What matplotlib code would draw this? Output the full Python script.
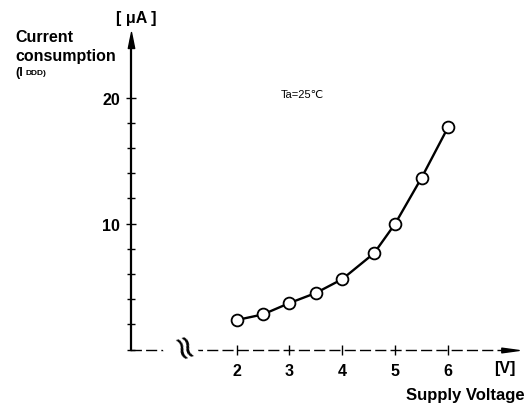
import matplotlib
matplotlib.use("Agg")
import matplotlib.pyplot as plt
import numpy as np

plt.rcParams['font.family'] = ['Liberation Sans', 'DejaVu Sans']

# Data
voltage = [2.0, 2.5, 3.0, 3.5, 4.0, 4.6, 5.0, 5.5, 6.0]
current = [2.35, 2.8, 3.7, 4.5, 5.6, 7.65, 10.0, 13.65, 17.65]
x_ticks = [2, 3, 4, 5, 6]
x_ticklabels = ["2", "3", "4", "5", "6"]
y_major = [10, 20]
y_major_labels = ["10", "20"]
y_minor = [0, 2, 4, 6, 8, 12, 14, 16, 18]

W, H = 529, 410
fig = plt.figure(figsize=(W / 100, H / 100), dpi=100)

def fx(px):
    return px / W

def fy(py):
    return 1 - py / H

ax = fig.add_axes([fx(130.7), fy(354.5), 378.8 / W, 314 / H])
ax.set_xlim(0, 7.16)
ax.set_ylim(-0.3, 24.6)
ax.patch.set_alpha(0)

for s in ["top", "right"]:
    ax.spines[s].set_visible(False)
ax.spines["left"].set_position(("data", 0))
ax.spines["bottom"].set_position(("data", 0))
ax.spines["left"].set_linewidth(1.6)
ax.spines["left"].set_bounds(0, 24.6)
ax.spines["bottom"].set_linewidth(1.0)
ax.spines["bottom"].set_linestyle((0, (7, 4)))

ax.set_xticks(x_ticks)
ax.set_xticklabels(x_ticklabels, fontsize=11.5, fontweight="bold")
ax.set_yticks(y_major)
ax.set_yticklabels(y_major_labels, fontsize=11.5, fontweight="bold")
ax.set_yticks(y_minor, minor=True)
ax.tick_params(axis="both", which="both", direction="inout", width=1.0, color="black")
ax.tick_params(axis="y", which="major", length=7, pad=4)
ax.tick_params(axis="y", which="minor", length=6)
ax.tick_params(axis="x", which="major", length=7, pad=6)

# arrow heads
from matplotlib.path import Path
right_head = Path([(-1, 0.27), (1, 0), (-1, -0.27), (-1, 0.27)],
                  [Path.MOVETO, Path.LINETO, Path.LINETO, Path.CLOSEPOLY])
up_head = Path([(-0.4, -1), (0, 1), (0.4, -1), (-0.4, -1)],
               [Path.MOVETO, Path.LINETO, Path.LINETO, Path.CLOSEPOLY])
ax.plot([1], [0], marker=right_head, markersize=12.5, color="black",
        transform=ax.get_yaxis_transform(), clip_on=False)
ax.plot([0], [1], marker=up_head, markersize=11.5, color="black",
        transform=ax.get_xaxis_transform(), clip_on=False)

# axis break mark
ax.text(0.94, 0, "\u2248", rotation=-70, ha="center", va="center",
        fontsize=24, color="black", family="DejaVu Sans",
        bbox=dict(facecolor="white", edgecolor="none", pad=0.0))

# data
ax.plot(voltage, current, color="black", linewidth=1.7, marker="o",
        markersize=8.5, markerfacecolor="white", markeredgecolor="black",
        markeredgewidth=1.3, clip_on=False, zorder=5)

# labels
fig.text(fx(15), fy(38), "Current", fontsize=11.5, fontweight="bold", ha="left", va="center")
fig.text(fx(15), fy(56), "consumption", fontsize=11.5, fontweight="bold", ha="left", va="center")
fig.text(fx(15), fy(73), "(I", fontsize=9, fontweight="bold", ha="left", va="center")
fig.text(fx(25), fy(74), "DDD)", fontsize=6, fontweight="bold", ha="left", va="center")
fig.text(fx(136), fy(18), "[ \u03bcA ]", fontsize=11.5, fontweight="bold", ha="center", va="center")
fig.text(fx(505), fy(369), "[V]", fontsize=11.5, fontweight="bold", ha="center", va="center")
fig.text(fx(525), fy(396), "Supply Voltage", fontsize=12, fontweight="bold", ha="right", va="center")
fig.text(fx(302), fy(95), "Ta=25\u2103", fontsize=8, ha="center", va="center",
         family=["Liberation Sans", "DejaVu Sans"])

fig.savefig("out.png", dpi=100)
